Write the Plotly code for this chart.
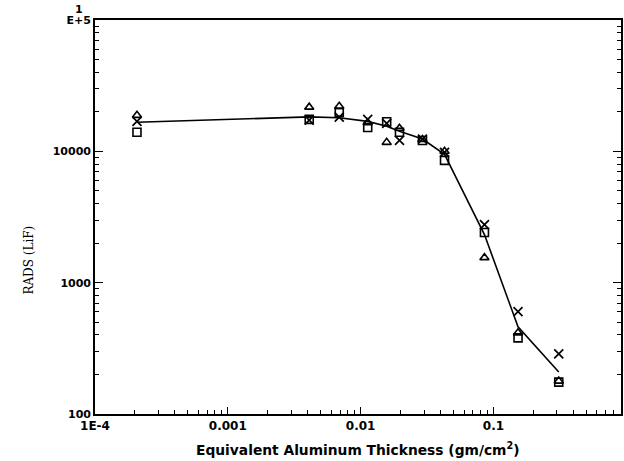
import plotly.graph_objects as go

# Data
thickness = [2.07e-4, 0.0041, 0.0069, 0.0113, 0.0157, 0.0196, 0.0292, 0.0428, 0.0855, 0.153, 0.31]
rads_triangle = [18800, 21700, 22000, 16500, 11700, 15000, 12300, 10000, 1550, 415, 178]
rads_cross = [16900, 17300, 18200, 17500, 16300, 12100, 12400, 9830, 2770, 601, 287]
rads_square = [13960, 17500, 19800, 15200, 16800, 13960, 12100, 8540, 2410, 380, 175]
rads_line = [16650, 18300, 18000, 16900, 15500, 14200, 12400, 9490, 2325, 461, 209]

x_tickvals = [1e-4, 1e-3, 1e-2, 1e-1, 1]
x_ticktext = ["<b>1E-4</b>", "<b>0.001</b>", "<b>0.01</b>", "<b>0.1</b>", "<b>1</b>"]
y_tickvals = [100, 1000, 10000, 100000]
y_ticktext = ["<b>100</b>", "<b>1000</b>", "<b>10000</b>", "<b>E+5</b>"]

x_minor = [m * 10.0 ** e for e in range(-4, 0) for m in range(2, 10)]
y_minor = [m * 10.0 ** e for e in range(2, 5) for m in range(2, 10)]

FONT = "DejaVu Sans"

fig = go.Figure()
fig.add_trace(go.Scatter(x=thickness, y=rads_line, mode="lines",
                         line=dict(color="black", width=1.6), showlegend=False))
fig.add_trace(go.Scatter(x=thickness, y=rads_triangle, mode="markers",
                         marker=dict(symbol="triangle-up-open", size=8, color="black",
                                     line=dict(width=1.6, color="black")), showlegend=False))
fig.add_trace(go.Scatter(x=thickness, y=rads_cross, mode="markers",
                         marker=dict(symbol="x-thin-open", size=9, color="black",
                                     line=dict(width=1.7, color="black")), showlegend=False))
fig.add_trace(go.Scatter(x=thickness, y=rads_square, mode="markers",
                         marker=dict(symbol="square-open", size=8, color="black",
                                     line=dict(width=1.6, color="black")), showlegend=False))

fig.update_xaxes(type="log", range=[-4, -0.04], tickmode="array",
                 tickvals=x_tickvals, ticktext=x_ticktext,
                 ticks="inside", ticklen=7, tickwidth=1.2, tickcolor="black",
                 minor=dict(tickmode="array", tickvals=x_minor, ticks="inside", ticklen=4,
                            tickcolor="black", tickwidth=1, showgrid=False),
                 showline=True, linecolor="black", linewidth=1.6, mirror=True,
                 showgrid=False, zeroline=False, automargin=False,
                 tickfont=dict(family=FONT, size=12, color="black"))
fig.update_yaxes(type="log", range=[2, 5], tickmode="array",
                 tickvals=y_tickvals, ticktext=y_ticktext,
                 ticks="inside", ticklen=8, tickwidth=1.2, tickcolor="black",
                 minor=dict(tickmode="array", tickvals=y_minor, ticks="inside", ticklen=4,
                            tickcolor="black", tickwidth=1, showgrid=False),
                 showline=True, linecolor="black", linewidth=1.6, mirror="allticks",
                 showgrid=False, zeroline=False, automargin=False,
                 tickfont=dict(family=FONT, size=11, color="black"))

fig.add_annotation(text="<b>1</b>", xref="paper", yref="paper", x=-0.03, y=1.005,
                   xanchor="center", yanchor="bottom", showarrow=False,
                   font=dict(family=FONT, size=11, color="black"))
fig.add_annotation(text="<b>Equivalent Aluminum Thickness (gm/cm<sup>2</sup>)</b>",
                   xref="paper", yref="paper", x=0.5, y=-0.06, xanchor="center", yanchor="top",
                   showarrow=False, font=dict(family=FONT, size=13.8, color="black"))
fig.add_annotation(text="RADS (LiF)", xref="paper", yref="paper", x=-0.125, y=0.39,
                   textangle=-90, xanchor="center", yanchor="middle", showarrow=False,
                   font=dict(family="DejaVu Serif", size=12, color="black"))

fig.update_layout(width=624, height=461, paper_bgcolor="white", plot_bgcolor="white",
                  margin=dict(l=95, r=3, t=20, b=47, autoexpand=False),
                  font=dict(family=FONT, color="black"))

fig.write_html("out.html", config={"displayModeBar": False},
               post_script="document.body.style.margin='0';document.body.style.overflow='hidden';")
